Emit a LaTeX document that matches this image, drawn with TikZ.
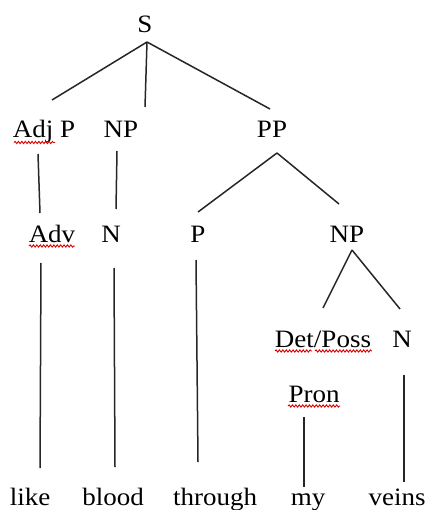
\documentclass[tikz,border=0pt]{standalone}
\usepackage{fontspec}
\setmainfont{Liberation Serif}[FakeStretch=1.08]
\usetikzlibrary{decorations.pathmorphing}
\begin{document}
\begin{tikzpicture}[x=1pt,y=-1pt,
  lbl/.style={anchor=base,inner sep=0pt,font=\fontsize{25}{28}\selectfont,text=black},
  edge/.style={draw=black!85,line width=1.5pt},
  squig/.style={draw=red!85!black,line width=0.9pt,decorate,decoration={snake,segment length=3.4pt,amplitude=1.1pt}}]
\useasboundingbox (0,0) rectangle (427,510);
% labels
\node[lbl] (S) at (145,33) {S};
\node[lbl] (AdjP) at (44,138) {Adj P};
\node[lbl] (NP1) at (121,138) {NP};
\node[lbl] (PP) at (272,138) {PP};
\node[lbl] (Adv) at (52,242) {Adv};
\node[lbl] (N1) at (111,242) {N};
\node[lbl] (P) at (198,242) {P};
\node[lbl] (NP2) at (347,242) {NP};
\node[lbl] (Det) at (323,347) {Det/Poss};
\node[lbl] (N2) at (402,347) {N};
\node[lbl] (Pron) at (314,402) {Pron};
\node[lbl] (w1) at (30,505) {like};
\node[lbl] (w2) at (113,505) {blood};
\node[lbl] (w3) at (215,505) {through};
\node[lbl] (w4) at (308,505) {my};
\node[lbl] (w5) at (397,505) {veins};
% connector end points
\coordinate (S-b) at (147,42);
\coordinate (AdjP-t) at (52,100);
\coordinate (NP1-t) at (145,107);
\coordinate (PP-t) at (270,109);
\coordinate (AdjP-b) at (38,154);
\coordinate (Adv-t) at (40,213);
\coordinate (NP1-b) at (117,151);
\coordinate (N1-t) at (116,209);
\coordinate (PP-b) at (277,153);
\coordinate (P-t) at (198,212);
\coordinate (NP2-t) at (339,204);
\coordinate (Adv-b) at (41,263);
\coordinate (w1-t) at (40,468);
\coordinate (N1-b) at (114,268);
\coordinate (w2-t) at (115,467);
\coordinate (P-b) at (196,260);
\coordinate (w3-t) at (198,462);
\coordinate (NP2-b) at (352,250);
\coordinate (Det-t) at (323,308);
\coordinate (N2-t) at (400,309);
\coordinate (Pron-b) at (304,417);
\coordinate (w4-t) at (304,487);
\coordinate (N2-b) at (404,375);
\coordinate (w5-t) at (404,482);
% connectors
\draw[edge] (S-b) -- (AdjP-t);
\draw[edge] (S-b) -- (NP1-t);
\draw[edge] (S-b) -- (PP-t);
\draw[edge] (AdjP-b) -- (Adv-t);
\draw[edge] (NP1-b) -- (N1-t);
\draw[edge] (PP-b) -- (P-t);
\draw[edge] (PP-b) -- (NP2-t);
\draw[edge] (Adv-b) -- (w1-t);
\draw[edge] (N1-b) -- (w2-t);
\draw[edge] (P-b) -- (w3-t);
\draw[edge] (NP2-b) -- (Det-t);
\draw[edge] (NP2-b) -- (N2-t);
\draw[edge] (Pron-b) -- (w4-t);
\draw[edge] (N2-b) -- (w5-t);
% spell-check squiggles
\draw[squig] (14,142.5) -- (55,142.5);
\draw[squig] (29,246) -- (75,246);
\draw[squig] (275,351) -- (312,351);
\draw[squig] (315,351) -- (372,351);
\draw[squig] (288,406) -- (340,406);
\end{tikzpicture}
\end{document}
